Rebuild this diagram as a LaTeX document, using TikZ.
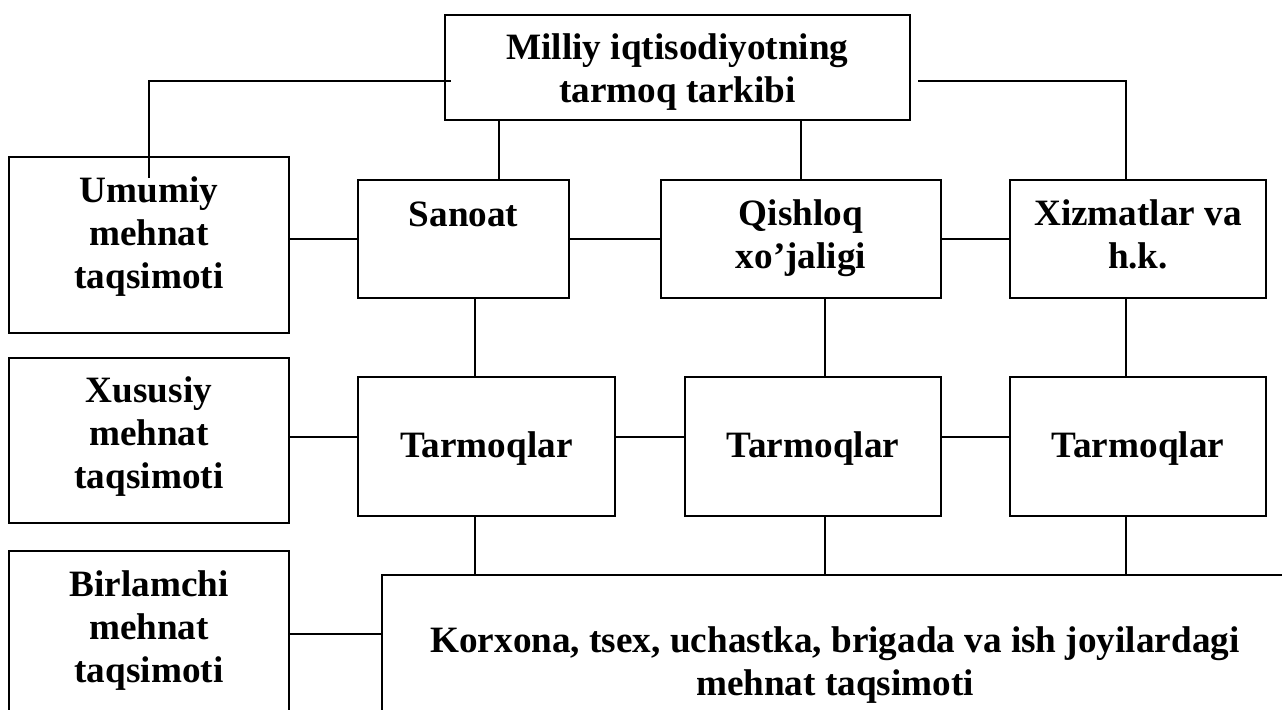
\documentclass[tikz,border=0pt]{standalone}
\usepackage{fontspec}
\setmainfont{Liberation Serif}
\begin{document}
\begin{tikzpicture}[x=0.5pt,y=-0.5pt,
  box/.style={draw=black,line width=1.2pt,rectangle,inner sep=0pt,fill=white},
  lbl/.style={inner sep=0pt,align=center,anchor=base,font=\fontsize{18.6pt}{21.3pt}\selectfont\bfseries},
  conn/.style={draw=black,line width=1.2pt}]
\clip (0,0) rectangle (1282,709);
\fill[white] (0,0) rectangle (1282,709);
% boxes
\node[box,minimum width=232.5pt,minimum height=52.5pt] (top) at (677.5,67.5) {};
\node[box,minimum width=140pt,minimum height=88pt] (um) at (149,245) {};
\node[box,minimum width=105.5pt,minimum height=59pt] (san) at (463.5,239) {};
\node[box,minimum width=140pt,minimum height=59pt] (qis) at (801,239) {};
\node[box,minimum width=128pt,minimum height=59pt] (xiz) at (1138,239) {};
\node[box,minimum width=140pt,minimum height=82.5pt] (xus) at (149,440.5) {};
\node[box,minimum width=128.5pt,minimum height=69.5pt] (t1) at (486.5,446.5) {};
\node[box,minimum width=128pt,minimum height=69.5pt] (t2) at (813,446.5) {};
\node[box,minimum width=128pt,minimum height=69.5pt] (t3) at (1138,446.5) {};
\node[box,minimum width=140pt,minimum height=94.5pt] (bir) at (149,645.5) {};
\node[box,minimum width=453pt,minimum height=92.5pt] (big) at (835,667.5) {};
% texts (anchor = baseline of the last line)
\node[lbl] (toptx) at (677.5,102) {Milliy iqtisodiyotning\\tarmoq tarkibi};
\node[lbl] (umtx) at (149,288) {Umumiy\\mehnat\\taqsimoti};
\node[lbl] (santx) at (463.5,226) {Sanoat};
\node[lbl] (qistx) at (801,268) {Qishloq\\xo’jaligi};
\node[lbl] (xiztx) at (1138,268) {Xizmatlar va\\h.k.};
\node[lbl] (xustx) at (149,488) {Xususiy\\mehnat\\taqsimoti};
\node[lbl] (t1tx) at (486.5,457) {Tarmoqlar};
\node[lbl] (t2tx) at (813,457) {Tarmoqlar};
\node[lbl] (t3tx) at (1138,457) {Tarmoqlar};
\node[lbl] (birtx) at (149,682) {Birlamchi\\mehnat\\taqsimoti};
\node[lbl] (bigtx) at (835,695) {Korxona, tsex, uchastka, brigada va ish joyilardagi\\mehnat taqsimoti};
% helper coordinates
\coordinate (yl) at (149,81);
\coordinate (ul) at (149,178);
\coordinate (yr) at (1126,81);
\coordinate (xs) at (499,0);
\coordinate (ka) at (475,0);
\coordinate (kb) at (825,0);
\coordinate (kc) at (1126,0);
\coordinate (r2) at (0,437);
% connectors from the top box
\draw[conn] ([xshift=3.5pt]top.west |- yl) -- (yl) -- (ul);
\draw[conn] ([xshift=3.5pt]top.east |- yr) -- (yr) -- (xiz.north -| yr);
\draw[conn] (top.south -| xs) -- (san.north -| xs);
\draw[conn] (top.south -| qis.north) -- (qis.north);
% first row
\draw[conn] (um.east |- san.west) -- (san.west);
\draw[conn] (san.east) -- (qis.west);
\draw[conn] (qis.east) -- (xiz.west);
% verticals to second row
\draw[conn] (san.south -| ka) -- (t1.north -| ka);
\draw[conn] (qis.south -| kb) -- (t2.north -| kb);
\draw[conn] (xiz.south -| kc) -- (t3.north -| kc);
% second row
\draw[conn] (xus.east |- r2) -- (t1.west |- r2);
\draw[conn] (t1.east |- r2) -- (t2.west |- r2);
\draw[conn] (t2.east |- r2) -- (t3.west |- r2);
% verticals to bottom box
\draw[conn] (t1.south -| ka) -- (big.north -| ka);
\draw[conn] (t2.south -| kb) -- (big.north -| kb);
\draw[conn] (t3.south -| kc) -- (big.north -| kc);
% bottom row
\draw[conn] (bir.east |- 0,634) -- (big.west |- 0,634);
\end{tikzpicture}
\end{document}
